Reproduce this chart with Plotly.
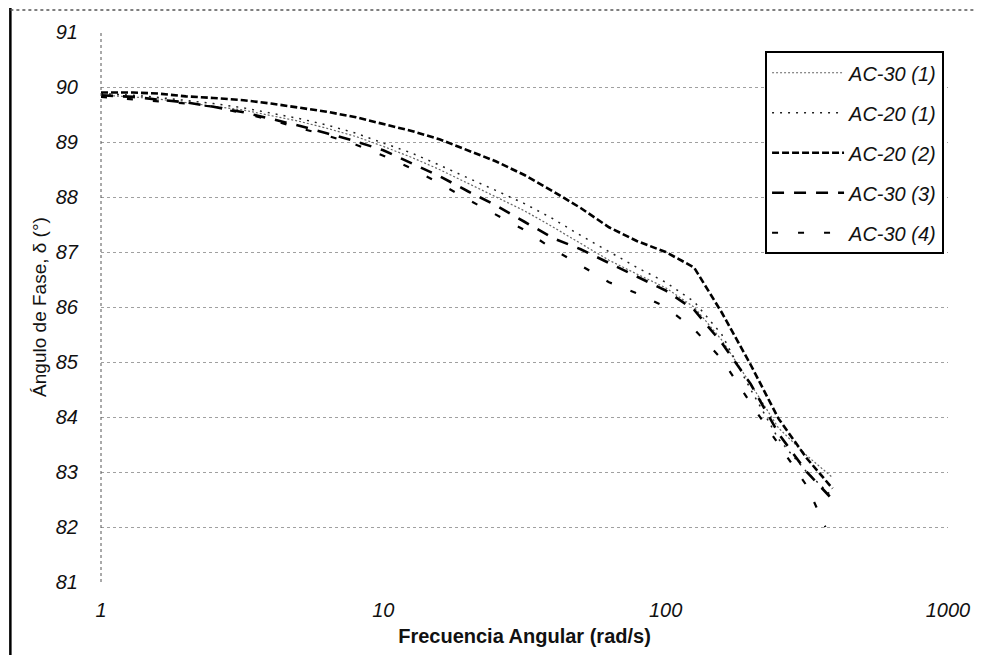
import plotly.graph_objects as go

freq = [1, 1.3, 1.6, 2, 2.5, 3.2, 4, 5, 6.3, 8, 10, 12.6, 15.8, 20, 25, 31.6,
        40, 50, 63, 79, 100, 126, 158, 200, 251, 316, 390]

ac30_1 = [89.85, 89.82, 89.78, 89.72, 89.66, 89.58, 89.48, 89.38, 89.25, 89.10,
          88.92, 88.72, 88.50, 88.25, 88.00, 87.75, 87.45, 87.15, 86.85, 86.60,
          86.35, 86.00, 85.40, 84.60, 83.80, 83.30, 82.90]
ac20_1 = [89.88, 89.85, 89.81, 89.76, 89.70, 89.62, 89.53, 89.43, 89.31, 89.16,
          88.98, 88.80, 88.58, 88.35, 88.12, 87.88, 87.60, 87.30, 87.00, 86.72,
          86.45, 86.10, 85.50, 84.50, 83.60, 83.00, 82.55]
ac20_2 = [89.90, 89.90, 89.88, 89.83, 89.80, 89.76, 89.70, 89.62, 89.55, 89.45,
          89.33, 89.20, 89.05, 88.85, 88.65, 88.40, 88.10, 87.80, 87.45, 87.20,
          87.00, 86.72, 85.90, 84.95, 83.97, 83.25, 82.70]
ac30_3 = [89.85, 89.82, 89.77, 89.72, 89.64, 89.54, 89.42, 89.30, 89.16, 89.01,
          88.85, 88.62, 88.38, 88.10, 87.85, 87.55, 87.25, 87.05, 86.80, 86.55,
          86.30, 85.95, 85.35, 84.60, 83.70, 83.00, 82.50]
ac30_4 = [89.82, 89.78, 89.74, 89.70, 89.64, 89.52, 89.40, 89.26, 89.12, 88.95,
          88.75, 88.52, 88.25, 87.95, 87.68, 87.40, 87.05, 86.75, 86.45, 86.25,
          86.00, 85.60, 85.05, 84.25, 83.50, 82.75, 82.00]
freq_4 = [1, 1.3, 1.6, 2, 2.5, 3.2, 4, 5, 6.3, 8, 10, 12.6, 15.8, 20, 25, 31.6,
          40, 50, 63, 79, 100, 126, 158, 200, 251, 316, 368]

names = ["AC-30 (1)", "AC-20 (1)", "AC-20 (2)", "AC-30 (3)", "AC-30 (4)"]
series = [(freq, ac30_1), (freq, ac20_1), (freq, ac20_2), (freq, ac30_3), (freq_4, ac30_4)]
styles = [
    dict(color="#666666", width=1.2, dash="2px,2px"),
    dict(color="#222222", width=1.5, dash="2px,6px"),
    dict(color="#000000", width=2.6, dash="7px,3px"),
    dict(color="#000000", width=2.6, dash="12px,10px"),
    dict(color="#000000", width=2.2, dash="6px,20px"),
]

fig = go.Figure()
for i, ((fx, fy), nm, st) in enumerate(zip(series, names, styles)):
    fig.add_trace(go.Scatter(x=fx, y=fy, mode="lines", name=nm, line=st,
                             legendgroup=f"g{i}"))

FONT = "Liberation Sans, Arial"
tickfont = dict(family=FONT, size=20, color="#111", style="italic")

fig.update_layout(
    width=974, height=647,
    margin=dict(l=93, r=29, t=24, b=71),
    paper_bgcolor="white", plot_bgcolor="white",
    showlegend=True,
    legend=dict(x=0.784, y=0.965, xanchor="left", yanchor="top",
                bgcolor="white", bordercolor="black", borderwidth=2,
                font=dict(family=FONT, size=20, color="#111", style="italic"),
                itemwidth=72, tracegroupgap=11),
    xaxis=dict(type="log", range=[0, 3], tickvals=[1, 10, 100, 1000],
               ticktext=["1", "10", "100", "1000"],
               showgrid=False, zeroline=False, showline=False,
               ticks="outside", ticklen=10, tickcolor="rgba(0,0,0,0)",
               tickfont=tickfont,
               title=dict(text="Frecuencia Angular (rad/s)", standoff=8,
                          font=dict(family=FONT, size=20, color="#111", weight="bold"))),
    yaxis=dict(range=[81, 91], dtick=1, tick0=81,
               showgrid=True, gridcolor="#a0a0a0", griddash="dot", gridwidth=1,
               zeroline=False, showline=False,
               ticks="outside", ticklen=18, tickcolor="rgba(0,0,0,0)",
               tickfont=tickfont,
               title=dict(text="Ángulo de Fase, δ (°)", standoff=4,
                          font=dict(family=FONT, size=19, color="#111"))),
    shapes=[
        dict(type="line", xref="paper", yref="paper", x0=0, x1=0, y0=0, y1=1,
             line=dict(color="#555", width=1, dash="dot")),
        dict(type="line", xref="paper", yref="paper", x0=-0.107, x1=-0.107, y0=-0.2, y1=1.045,
             line=dict(color="black", width=2.5)),
        dict(type="line", xref="paper", yref="paper", x0=-0.107, x1=1.04, y0=1.04, y1=1.04,
             line=dict(color="#555", width=1.5, dash="dot")),
    ],
)

fig.write_html("out.html")
